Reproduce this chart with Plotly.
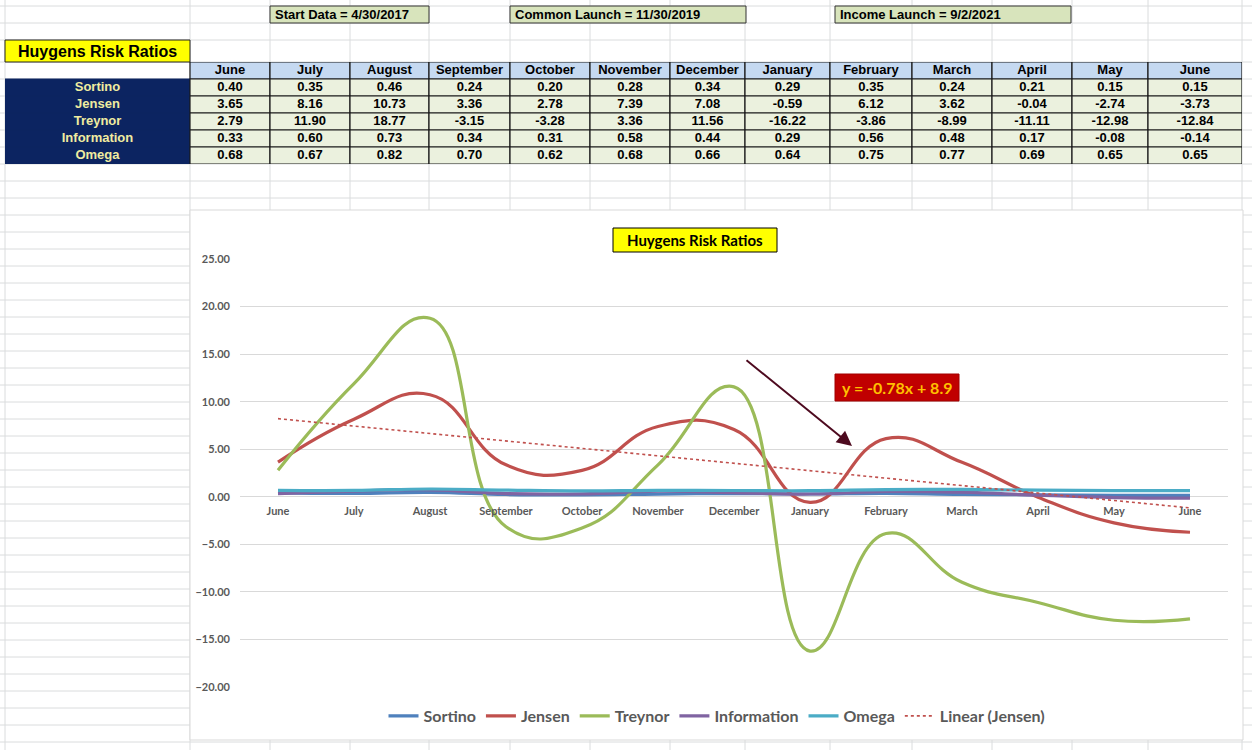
import numpy as np
import plotly.graph_objects as go

W, H = 1252, 750

# ---------------- data ----------------
months = ["June", "July", "August", "September", "October", "November", "December",
          "January", "February", "March", "April", "May", "June"]
series_names = ["Sortino", "Jensen", "Treynor", "Information", "Omega"]
sortino = [0.40, 0.35, 0.46, 0.24, 0.20, 0.28, 0.34, 0.29, 0.35, 0.24, 0.21, 0.15, 0.15]
jensen = [3.65, 8.16, 10.73, 3.36, 2.78, 7.39, 7.08, -0.59, 6.12, 3.62, -0.04, -2.74, -3.73]
treynor = [2.79, 11.90, 18.77, -3.15, -3.28, 3.36, 11.56, -16.22, -3.86, -8.99, -11.11, -12.98, -12.84]
information = [0.33, 0.60, 0.73, 0.34, 0.31, 0.58, 0.44, 0.29, 0.56, 0.48, 0.17, -0.08, -0.14]
omega = [0.68, 0.67, 0.82, 0.70, 0.62, 0.68, 0.66, 0.64, 0.75, 0.77, 0.69, 0.65, 0.65]
info_boxes = ["Start Data = 4/30/2017", "Common Launch = 11/30/2019", "Income Launch = 9/2/2021"]
table_title = "Huygens Risk Ratios"
chart_title = "Huygens Risk Ratios"
trend_name = "Linear (Jensen)"
trend_label = "y = -0.78x + 8.9"

series_values = [sortino, jensen, treynor, information, omega]
series_colors = ["#4f81bd", "#c0504d", "#9bbb59", "#8064a2", "#4bacc6"]

# ---------------- layout geometry (pixels) ----------------
def fx(px):
    return px / W

def fy(py):
    return 1 - py / H

col_edges = [5, 190, 270, 350, 429, 510, 590, 670, 745, 830, 912, 992, 1072, 1148, 1242]
row_h = 17
table_top = 62
n_rows = len(series_names) + 1
table_bottom = table_top + n_rows * row_h
row_lines = [6, 23, 40] + [table_top + row_h * k for k in range(42)]
grid_color = "#dadcdd"

shapes = []
for x in col_edges:
    shapes.append(dict(type="line", xref="paper", yref="paper", x0=fx(x), x1=fx(x), y0=0, y1=1,
                       line=dict(color=grid_color, width=1), layer="below"))
for y in row_lines:
    if y <= H:
        shapes.append(dict(type="line", xref="paper", yref="paper", x0=0, x1=1, y0=fy(y), y1=fy(y),
                           line=dict(color=grid_color, width=1), layer="below"))

# chart area (white box)
shapes.append(dict(type="rect", xref="paper", yref="paper", x0=fx(190), x1=fx(1243), y0=fy(740), y1=fy(210),
                   fillcolor="white", line=dict(color="#d9d9d9", width=1), layer="below"))

annotations = []

# top info boxes
box_pos = [(270, 429), (510, 746), (835, 1071)]
for (x0, x1), txt in zip(box_pos, info_boxes):
    shapes.append(dict(type="rect", xref="paper", yref="paper", x0=fx(x0), x1=fx(x1), y0=fy(23), y1=fy(6),
                       fillcolor="#d8e4bc", line=dict(color="#333333", width=1), layer="below"))
    annotations.append(dict(xref="paper", yref="paper", x=fx(x0 + 3), y=fy(14.5), xanchor="left",
                            yanchor="middle", showarrow=False, text="<b>" + txt + "</b>",
                            font=dict(family="Liberation Sans", size=13, color="black")))

# table title box
shapes.append(dict(type="rect", xref="paper", yref="paper", x0=fx(5), x1=fx(190), y0=fy(62), y1=fy(40),
                   fillcolor="#ffff00", line=dict(color="#222222", width=1), layer="below"))
annotations.append(dict(xref="paper", yref="paper", x=fx(97.5), y=fy(51), xanchor="center", yanchor="middle",
                        showarrow=False, text="<b>" + table_title + "</b>",
                        font=dict(family="Liberation Sans", size=16, color="black")))

# chart title box
shapes.append(dict(type="rect", xref="paper", yref="paper", x0=fx(613), x1=fx(777), y0=fy(252), y1=fy(228),
                   fillcolor="#ffff00", line=dict(color="black", width=1), layer="above"))
annotations.append(dict(xref="paper", yref="paper", x=fx(695), y=fy(240), xanchor="center", yanchor="middle",
                        showarrow=False, text="<b>" + chart_title + "</b>",
                        font=dict(family="Lato", size=15, color="black")))

# trend equation box
shapes.append(dict(type="rect", xref="paper", yref="paper", x0=fx(835), x1=fx(959), y0=fy(401), y1=fy(374),
                   fillcolor="#c00000", line=dict(color="#a00000", width=1), layer="above"))
annotations.append(dict(xref="paper", yref="paper", x=fx(897), y=fy(387.5), xanchor="center", yanchor="middle",
                        showarrow=False, text="<b>" + trend_label + "</b>",
                        font=dict(family="Lato", size=16, color="#ffc000")))

# arrow
annotations.append(dict(xref="paper", yref="paper", x=fx(852), y=fy(446), ax=745 - 852, ay=359 - 446,
                        axref="pixel", ayref="pixel", text="", showarrow=True, arrowhead=2,
                        arrowsize=1.5, arrowwidth=2, arrowcolor="#4d0a1f", standoff=0))

# ---------------- table cells (on their own axes x2/y2) ----------------
label_fill = "#0c2461"
label_text = "#f0eca0"
head_fill = "#c5d9f1"
cell_fill = "#ebf1de"
border = "#1a1a1a"

col_centers = [(a + b) / 2 for a, b in zip(col_edges[:-1], col_edges[1:])]
row_tops = [table_top + row_h * k for k in range(n_rows)]
row_centers = [t + row_h / 2 for t in row_tops]

# header cells
for j in range(1, len(col_edges) - 1):
    shapes.append(dict(type="rect", xref="x2", yref="y2", x0=col_edges[j], x1=col_edges[j + 1],
                       y0=row_tops[0], y1=row_tops[0] + row_h, fillcolor=head_fill,
                       line=dict(color=border, width=1.2), layer="below"))
# body cells
for r in range(1, n_rows):
    shapes.append(dict(type="rect", xref="x2", yref="y2", x0=col_edges[0], x1=col_edges[1],
                       y0=row_tops[r], y1=row_tops[r] + row_h, fillcolor=label_fill,
                       line=dict(color=label_fill, width=1), layer="below"))
    for j in range(1, len(col_edges) - 1):
        shapes.append(dict(type="rect", xref="x2", yref="y2", x0=col_edges[j], x1=col_edges[j + 1],
                           y0=row_tops[r], y1=row_tops[r] + row_h, fillcolor=cell_fill,
                           line=dict(color=border, width=1.2), layer="below"))

fig = go.Figure()

table_font = dict(family="Liberation Sans", size=13, weight="bold")
# header text
fig.add_trace(go.Scatter(x=col_centers[1:], y=[row_centers[0]] * len(months), text=months,
                         mode="text", textposition="middle center",
                         textfont=dict(color="black", **table_font),
                         xaxis="x2", yaxis="y2", showlegend=False, hoverinfo="skip", cliponaxis=False))
# row labels
fig.add_trace(go.Scatter(x=[col_centers[0]] * len(series_names), y=row_centers[1:], text=series_names,
                         mode="text", textposition="middle center",
                         textfont=dict(color=label_text, **table_font),
                         xaxis="x2", yaxis="y2", showlegend=False, hoverinfo="skip", cliponaxis=False))
# values
vx, vy, vt = [], [], []
for r, vals in enumerate(series_values):
    for j, v in enumerate(vals):
        vx.append(col_centers[j + 1])
        vy.append(row_centers[r + 1])
        vt.append(f"{v:.2f}")
fig.add_trace(go.Scatter(x=vx, y=vy, text=vt, mode="text", textposition="middle center",
                         textfont=dict(color="black", **table_font),
                         xaxis="x2", yaxis="y2", showlegend=False, hoverinfo="skip", cliponaxis=False))

# ---------------- chart ----------------
xs = list(range(len(months)))
for name, vals, col in zip(series_names, series_values, series_colors):
    fig.add_trace(go.Scatter(x=xs, y=vals, mode="lines", name=name,
                             line=dict(color=col, width=3.2, shape="spline", smoothing=1.3)))

# linear trendline of Jensen (fit on 1..n like Excel)
xn = np.arange(1, len(jensen) + 1)
coef = np.polyfit(xn, jensen, 1)
trend = np.polyval(coef, xn)
fig.add_trace(go.Scatter(x=xs, y=trend, mode="lines", name=trend_name,
                         line=dict(color="#c0504d", width=1.6, dash="dot")))

ymin, ymax = -20, 25
ydom = [fy(687), fy(259)]
zero_pos = ydom[0] + (0 - ymin) / (ymax - ymin) * (ydom[1] - ydom[0])

tick_font = dict(family="Lato", size=11, color="#595959", weight="bold")

fig.update_layout(
    template="none",
    width=W, height=H, autosize=False,
    margin=dict(l=0, r=0, t=0, b=0, pad=0, autoexpand=False),
    paper_bgcolor="white", plot_bgcolor="rgba(0,0,0,0)",
    shapes=shapes, annotations=annotations,
    showlegend=True,
    legend=dict(orientation="h", x=fx(717), xanchor="center", y=fy(716), yanchor="middle",
                font=dict(family="Lato", size=16, color="#595959", weight="bold"),
                bgcolor="rgba(0,0,0,0)", borderwidth=0),
    xaxis=dict(domain=[fx(240), fx(1228)], range=[-0.5, len(months) - 0.5],
               anchor="free", position=zero_pos,
               tickmode="array", tickvals=xs, ticktext=months,
               showgrid=False, zeroline=False, showline=False, ticks="",
               tickfont=tick_font, ticklabelstandoff=6, fixedrange=True, automargin=False),
    yaxis=dict(domain=ydom, range=[ymin, ymax], dtick=5, tickformat=".2f",
               showgrid=True, gridcolor="#d9d9d9", gridwidth=1, zeroline=False, showline=False,
               ticks="", tickfont=tick_font, ticklabelstandoff=9, fixedrange=True, automargin=False),
    xaxis2=dict(domain=[fx(col_edges[0]), fx(col_edges[-1])], range=[col_edges[0], col_edges[-1]],
                anchor="y2", visible=False, fixedrange=True, automargin=False),
    yaxis2=dict(domain=[fy(table_bottom), fy(table_top)], range=[table_bottom, table_top],
                anchor="x2", visible=False, fixedrange=True, automargin=False),
    hovermode=False,
)

fig.write_html("out.html", config={"displayModeBar": False})
